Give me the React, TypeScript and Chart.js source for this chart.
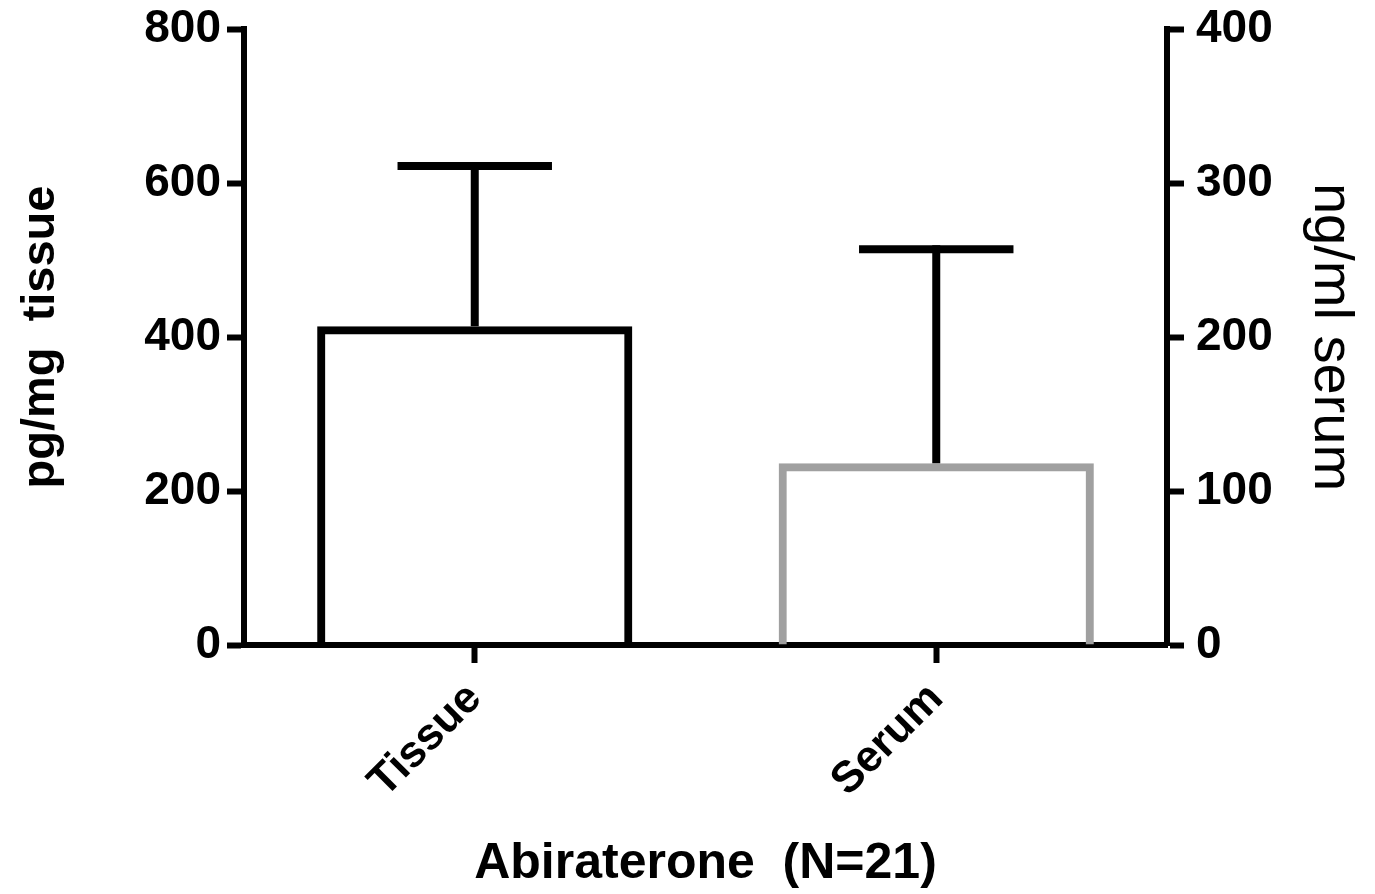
import React, { useEffect, useRef } from "react";
import { Chart, registerables } from "chart.js";

Chart.register(...registerables);

const categories = ["Tissue", "Serum"];
const tissueValues = [414, null];
const serumValues = [null, 118];
const tissueUpper = [622, null];
const serumUpper = [null, 257];
const leftTicks = [0, 200, 400, 600, 800];
const rightTicks = [0, 100, 200, 300, 400];

const FONT = "'Liberation Sans', Arial, Helvetica, sans-serif";

const errorBarPlugin = {
  id: "errorBars",
  afterDatasetsDraw(chart: any) {
    const ctx = chart.ctx;
    chart.data.datasets.forEach((ds: any, di: number) => {
      const meta = chart.getDatasetMeta(di);
      const scale = chart.scales[ds.yAxisID];
      const uppers: (number | null)[] = ds.upper;
      meta.data.forEach((bar: any, i: number) => {
        const up = uppers[i];
        const v = ds.data[i];
        if (up == null || v == null) return;
        const x = bar.x;
        const yTop = scale.getPixelForValue(v);
        const yUp = scale.getPixelForValue(up);
        const capW = bar.width * 0.49;
        ctx.save();
        ctx.strokeStyle = "#000";
        ctx.lineWidth = 8;
        ctx.lineCap = "butt";
        ctx.beginPath();
        ctx.moveTo(x, yTop);
        ctx.lineTo(x, yUp - 4);
        ctx.stroke();
        ctx.beginPath();
        ctx.moveTo(x - capW / 2, yUp);
        ctx.lineTo(x + capW / 2, yUp);
        ctx.stroke();
        ctx.restore();
      });
    });
  },
};

const fixY = (width: number) => (s: any) => {
  s.width = width;
  s.paddingTop = 0;
  s.paddingBottom = 0;
};

export default function App() {
  const ref = useRef<HTMLCanvasElement>(null);
  useEffect(() => {
    if (!ref.current) return;
    const chart = new Chart(ref.current, {
      type: "bar",
      data: {
        labels: categories,
        datasets: [
          {
            label: "Tissue",
            data: tissueValues as any,
            upper: tissueUpper,
            yAxisID: "y",
            backgroundColor: "rgba(0,0,0,0)",
            borderColor: "#000000",
            borderWidth: 8,
            grouped: false,
            barPercentage: 0.683,
            categoryPercentage: 1,
          } as any,
          {
            label: "Serum",
            data: serumValues as any,
            upper: serumUpper,
            yAxisID: "y1",
            backgroundColor: "rgba(0,0,0,0)",
            borderColor: "#a0a0a0",
            borderWidth: 8,
            grouped: false,
            barPercentage: 0.683,
            categoryPercentage: 1,
          } as any,
        ],
      },
      options: {
        responsive: false,
        animation: false,
        devicePixelRatio: 1,
        layout: { padding: { top: 29, left: 0, right: 0, bottom: 0 } },
        plugins: {
          legend: { display: false },
          tooltip: { enabled: false },
        },
        scales: {
          x: {
            afterFit: (s: any) => {
              s.height = 249;
              s.paddingLeft = 0;
              s.paddingRight = 0;
            },
            grid: {
              offset: false,
              drawOnChartArea: false,
              drawTicks: true,
              tickLength: 18,
              tickWidth: 6,
              tickColor: "#000",
            },
            border: { display: true, color: "#000", width: 6 },
            ticks: {
              color: "#000",
              font: { family: FONT, size: 44, weight: "bold" },
              minRotation: 45,
              maxRotation: 45,
              padding: 10,
            },
            title: {
              display: true,
              text: "Abiraterone  (N=21)",
              color: "#000",
              font: { family: FONT, size: 50, weight: "bold" },
              padding: { top: 4, bottom: 0 },
            },
          },
          y: {
            position: "left",
            min: 0,
            max: 800,
            afterFit: fixY(244),
            afterBuildTicks: (s: any) => {
              s.ticks = leftTicks.map((v) => ({ value: v }));
            },
            grid: {
              drawOnChartArea: false,
              drawTicks: true,
              tickLength: 17,
              tickWidth: 6,
              tickColor: "#000",
            },
            border: { display: true, color: "#000", width: 6 },
            ticks: {
              color: "#000",
              font: { family: FONT, size: 46, weight: "bold", lineHeight: 1 },
              padding: 6,
            },
            title: {
              display: true,
              text: "pg/mg  tissue",
              color: "#000",
              font: { family: FONT, size: 47, weight: "bold" },
              padding: { top: 13, bottom: 0 },
            },
          },
          y1: {
            position: "right",
            min: 0,
            max: 400,
            afterFit: fixY(208),
            afterBuildTicks: (s: any) => {
              s.ticks = rightTicks.map((v) => ({ value: v }));
            },
            grid: {
              drawOnChartArea: false,
              drawTicks: true,
              tickLength: 17,
              tickWidth: 6,
              tickColor: "#000",
            },
            border: { display: true, color: "#000", width: 6 },
            ticks: {
              color: "#000",
              font: { family: FONT, size: 46, weight: "bold", lineHeight: 1 },
              padding: 12,
            },
            title: {
              display: true,
              text: "ng/ml serum",
              color: "#000",
              font: { family: FONT, size: 56, weight: "normal" },
              padding: { top: 11, bottom: 0 },
            },
          },
        },
      },
      plugins: [errorBarPlugin],
    } as any);
    return () => chart.destroy();
  }, []);
  return (
    <div style={{ position: "absolute", left: 0, top: 0, width: 1375, height: 894, background: "#fff" }}>
      <canvas ref={ref} width={1375} height={894} style={{ display: "block" }} />
    </div>
  );
}
